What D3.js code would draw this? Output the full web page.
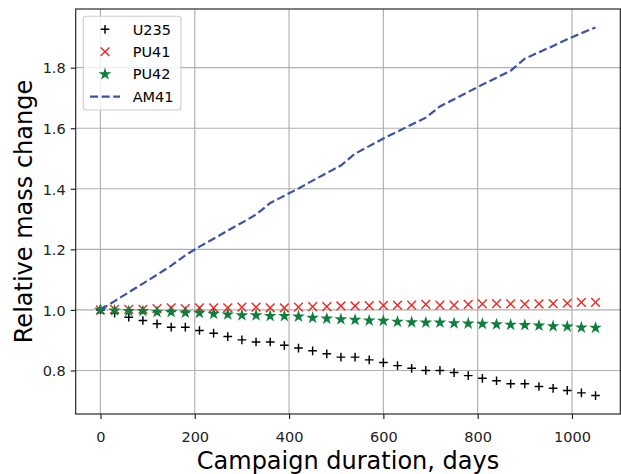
<!DOCTYPE html>
<html>
<head>
<meta charset="utf-8">
<script src="https://cdn.jsdelivr.net/npm/d3@7"></script>
<style>
html,body{margin:0;padding:0;background:#fff;}
svg{display:block;font-family:"DejaVu Sans",sans-serif;}
</style>
</head>
<body>
<svg id="chart" width="621" height="474"></svg>
<script>
// ---- data ----
const days = [0,30,60,90,120,150,180,210,240,270,300,330,360,390,420,450,480,510,540,570,600,630,660,690,720,750,780,810,840,870,900,930,960,990,1020,1050];
const U235 = [1.000,0.989,0.976,0.965,0.954,0.943,0.943,0.932,0.923,0.912,0.901,0.894,0.894,0.883,0.874,0.865,0.855,0.844,0.844,0.835,0.826,0.816,0.807,0.800,0.800,0.793,0.783,0.774,0.766,0.756,0.756,0.747,0.741,0.734,0.726,0.717];
const PU41 = [1.000,1.002,1.002,1.002,1.004,1.007,1.004,1.007,1.007,1.007,1.009,1.009,1.007,1.007,1.009,1.011,1.011,1.013,1.013,1.014,1.015,1.016,1.016,1.018,1.016,1.016,1.018,1.020,1.021,1.020,1.019,1.020,1.021,1.022,1.025,1.025];
const PU42 = [1.000,0.998,0.996,0.996,0.993,0.993,0.991,0.990,0.987,0.985,0.982,0.982,0.980,0.980,0.978,0.974,0.971,0.969,0.967,0.965,0.964,0.961,0.959,0.958,0.958,0.956,0.955,0.954,0.952,0.951,0.950,0.948,0.946,0.945,0.942,0.941];
const AM41 = [1.000,1.029,1.058,1.087,1.116,1.146,1.180,1.209,1.235,1.262,1.288,1.315,1.353,1.377,1.401,1.427,1.452,1.477,1.516,1.541,1.566,1.589,1.612,1.635,1.672,1.696,1.720,1.744,1.767,1.790,1.830,1.851,1.872,1.894,1.914,1.933];
const seriesNames = ["U235","PU41","PU42","AM41"];
const xTicks = [0,200,400,600,800,1000];
const yTicks = [0.8,1.0,1.2,1.4,1.6,1.8];
const xLabel = "Campaign duration, days";
const yLabel = "Relative mass change";

// ---- layout ----
const L = 75.7, R = 620.3, T = 9, B = 414;
const col = {U235:"#000000", PU41:"#ee2a24", PU42:"#0f7f3f", AM41:"#3a53a4"};
const ms = 8.7, mlw = 1.45;

const svg = d3.select("#chart");

const xmin = d3.min(days), xmax = d3.max(days), xpad = (xmax - xmin) * 0.05;
const allY = U235.concat(PU41, PU42, AM41);
const ymin = d3.min(allY), ymax = d3.max(allY), ypad = (ymax - ymin) * 0.05;
const x = d3.scaleLinear().domain([xmin - xpad, xmax + xpad]).range([L, R]);
const y = d3.scaleLinear().domain([ymin - ypad, ymax + ypad]).range([B, T]);

// grid
const g = svg.append("g");
g.selectAll(".gx").data(xTicks).enter().append("line")
  .attr("x1", d => x(d)).attr("x2", d => x(d)).attr("y1", T).attr("y2", B)
  .attr("stroke", "#b0b0b0").attr("stroke-width", 1.16);
g.selectAll(".gy").data(yTicks).enter().append("line")
  .attr("y1", d => y(d)).attr("y2", d => y(d)).attr("x1", L).attr("x2", R)
  .attr("stroke", "#b0b0b0").attr("stroke-width", 1.16);

// axes
const xAxis = d3.axisBottom(x).tickValues(xTicks).tickSize(5).tickPadding(5).tickFormat(d3.format("d"));
const yAxis = d3.axisLeft(y).tickValues(yTicks).tickSize(5).tickPadding(5).tickFormat(d3.format(".1f"));
const ax = svg.append("g").attr("transform", `translate(0,${B})`).call(xAxis);
const ay = svg.append("g").attr("transform", `translate(${L},0)`).call(yAxis);
[ax, ay].forEach(a => {
  a.select(".domain").remove();
  a.selectAll(".tick line").attr("stroke", "#222").attr("stroke-width", 1.16);
  a.selectAll(".tick text").attr("fill", "#222").style("font-size", "14.5px").style("font-family", "DejaVu Sans");
});
ax.selectAll(".tick text").attr("dy", null).attr("y", 27.5);
ay.selectAll(".tick text").attr("dy", "0.36em");

// markers
function plus(s){ const h=s/2; return `M${-h},0L${h},0M0,${-h}L0,${h}`; }
function cross(s){ const h=s/2; return `M${-h},${-h}L${h},${h}M${-h},${h}L${h},${-h}`; }
function star(s){
  const ro = s/2, ri = ro*0.381966; let p = "";
  for (let i=0;i<10;i++){ const r = i%2? ri: ro; const a = -Math.PI/2 + i*Math.PI/5;
    p += (i?"L":"M") + (r*Math.cos(a)).toFixed(3) + "," + (r*Math.sin(a)).toFixed(3); }
  return p + "Z";
}
const pts = (arr) => days.map((d,i)=>({d, v:arr[i]}));
const plotG = svg.append("g");
plotG.selectAll(".u").data(pts(U235)).enter().append("path")
  .attr("transform", p => `translate(${x(p.d)},${y(p.v)})`).attr("d", plus(ms))
  .attr("stroke", col.U235).attr("stroke-width", mlw).attr("fill", "none");
plotG.selectAll(".p1").data(pts(PU41)).enter().append("path")
  .attr("transform", p => `translate(${x(p.d)},${y(p.v)})`).attr("d", cross(ms))
  .attr("stroke", col.PU41).attr("stroke-width", mlw).attr("fill", "none");
plotG.selectAll(".p2").data(pts(PU42)).enter().append("path")
  .attr("transform", p => `translate(${x(p.d)},${y(p.v)})`).attr("d", star(ms))
  .attr("stroke", col.PU42).attr("stroke-width", mlw).attr("stroke-linejoin","miter").attr("fill", col.PU42);
const line = d3.line().x(p => x(p.d)).y(p => y(p.v));
plotG.append("path").datum(pts(AM41)).attr("d", line)
  .attr("fill", "none").attr("stroke", col.AM41).attr("stroke-width", 2.2)
  .attr("stroke-dasharray", "8.1,3.5");

// frame
svg.append("rect").attr("x", L).attr("y", T).attr("width", R-L).attr("height", B-T)
  .attr("fill", "none").attr("stroke", "#222").attr("stroke-width", 1.16);

// legend
const lg = svg.append("g");
lg.append("rect").attr("x", 83.3).attr("y", 16.2).attr("width", 97.7).attr("height", 93.8)
  .attr("rx", 3).attr("fill", "#fff").attr("fill-opacity", 0.8).attr("stroke", "#cccccc").attr("stroke-width", 1.1);
seriesNames.forEach((n, i) => {
  const cy = 29.3 + i * 22.45;
  if (n === "U235") lg.append("path").attr("transform", `translate(105,${cy})`).attr("d", plus(ms)).attr("stroke", col.U235).attr("stroke-width", mlw);
  if (n === "PU41") lg.append("path").attr("transform", `translate(105,${cy})`).attr("d", cross(ms)).attr("stroke", col.PU41).attr("stroke-width", mlw);
  if (n === "PU42") lg.append("path").attr("transform", `translate(105,${cy})`).attr("d", star(ms)).attr("stroke", col.PU42).attr("stroke-width", mlw).attr("fill", col.PU42);
  if (n === "AM41") lg.append("line").attr("x1", 90).attr("x2", 120).attr("y1", cy).attr("y2", cy).attr("stroke", col.AM41).attr("stroke-width", 2.2).attr("stroke-dasharray", "8.1,3.5");
  lg.append("text").attr("x", 132.7).attr("y", cy).attr("dy", "0.36em").text(n)
    .style("font-size", "14.5px").attr("fill", "#000");
});

// axis labels
svg.append("text").attr("x", (L+R)/2).attr("y", 468.5).attr("text-anchor", "middle")
  .style("font-size", "24px").attr("fill", "#000").text(xLabel);
svg.append("text").attr("transform", `translate(31.5,${(T+B)/2}) rotate(-90)`).attr("text-anchor", "middle")
  .style("font-size", "24px").attr("fill", "#000").text(yLabel);
</script>
</body>
</html>
